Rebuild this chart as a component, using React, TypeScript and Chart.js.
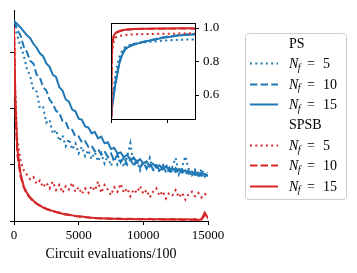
import React, { useEffect, useRef } from 'react';
import { Chart, registerables } from 'chart.js';
Chart.register(...registerables);

const FONT = '"Liberation Serif", "DejaVu Serif", serif';
const BLUE = '#1f77b4';
const RED = '#d62728';

// ---------- main panel data ----------
const X_MAIN = [0, 100, 250, 500, 750, 1000, 1250, 1500, 1750, 2000, 2250, 2500, 2750, 3000, 3250, 3500, 3750, 4000, 4250, 4500, 4750, 5000, 5250, 5500, 5750, 6000, 6250, 6500, 6750, 7000, 7250, 7500, 7750, 8000, 8250, 8500, 8750, 9000, 9250, 9500, 9750, 10000, 10250, 10500, 10750, 11000, 11250, 11500, 11750, 12000, 12250, 12500, 12750, 13000, 13250, 13500, 13750, 14000, 14250, 14500, 14750, 15000];

const PS_N5 = [3.55, 3.42, 3.3, 3.1, 2.95, 2.7, 2.58, 2.32, 2.3, 2.0, 2.02, 1.75, 1.8, 1.55, 1.62, 1.42, 1.52, 1.33, 1.46, 1.27, 1.38, 1.2, 1.32, 1.15, 1.26, 1.1, 1.22, 1.06, 1.2, 1.02, 1.16, 0.98, 1.14, 1.0, 1.12, 0.96, 1.14, 1.38, 0.98, 1.1, 0.9, 1.06, 0.94, 1.12, 0.88, 1.03, 0.86, 0.99, 1.02, 0.84, 0.97, 1.12, 0.83, 0.96, 1.15, 0.92, 0.79, 0.91, 0.77, 0.93, 0.79, 0.86];
const PS_N10 = [3.55, 3.5, 3.4, 3.3, 3.1, 3.0, 2.85, 2.8, 2.6, 2.55, 2.38, 2.32, 2.16, 2.08, 1.96, 1.92, 1.78, 1.76, 1.62, 1.62, 1.5, 1.5, 1.4, 1.42, 1.32, 1.34, 1.24, 1.28, 1.18, 1.24, 1.14, 1.2, 1.08, 1.18, 1.04, 1.14, 1.0, 1.1, 0.98, 1.06, 0.95, 1.05, 0.93, 1.02, 0.92, 0.99, 0.9, 0.97, 0.88, 0.95, 0.86, 0.94, 0.84, 0.92, 0.83, 0.9, 0.81, 0.88, 0.8, 0.86, 0.79, 0.82];
const PS_N15 = [3.56, 3.53, 3.5, 3.44, 3.37, 3.3, 3.25, 3.15, 3.08, 2.98, 2.93, 2.8, 2.74, 2.6, 2.56, 2.38, 2.32, 2.16, 2.12, 1.98, 1.95, 1.82, 1.8, 1.68, 1.66, 1.56, 1.58, 1.47, 1.5, 1.38, 1.4, 1.28, 1.3, 1.2, 1.22, 1.13, 1.18, 1.08, 1.13, 1.05, 1.1, 1.02, 1.06, 0.97, 1.02, 0.95, 0.99, 0.92, 0.97, 0.9, 0.94, 0.87, 0.92, 0.86, 0.9, 0.84, 0.88, 0.82, 0.86, 0.8, 0.84, 0.8];

const SPSB_N5 = [3.45, 2.3, 1.45, 1.08, 0.9, 0.82, 0.74, 0.78, 0.66, 0.72, 0.6, 0.68, 0.58, 0.7, 0.55, 0.64, 0.5, 0.62, 0.56, 0.68, 0.52, 0.6, 0.48, 0.58, 0.5, 0.62, 0.54, 0.7, 0.5, 0.64, 0.56, 0.46, 0.6, 0.52, 0.66, 0.5, 0.58, 0.44, 0.56, 0.5, 0.62, 0.48, 0.55, 0.42, 0.52, 0.58, 0.45, 0.53, 0.4, 0.5, 0.46, 0.55, 0.42, 0.5, 0.38, 0.48, 0.52, 0.44, 0.5, 0.42, 0.48, 0.45];
const SPSB_N10 = [3.45, 2.0, 1.2, 0.8, 0.6, 0.47, 0.41, 0.34, 0.31, 0.27, 0.25, 0.21, 0.2, 0.17, 0.16, 0.14, 0.13, 0.11, 0.11, 0.09, 0.09, 0.08, 0.07, 0.065, 0.06, 0.055, 0.05, 0.05, 0.045, 0.04, 0.05, 0.04, 0.035, 0.045, 0.04, 0.03, 0.04, 0.035, 0.03, 0.04, 0.03, 0.035, 0.03, 0.04, 0.03, 0.03, 0.035, 0.03, 0.025, 0.03, 0.035, 0.025, 0.03, 0.03, 0.025, 0.03, 0.025, 0.03, 0.025, 0.03, 0.1, 0.04];
const SPSB_N15 = [3.45, 2.2, 1.3, 0.85, 0.62, 0.5, 0.42, 0.36, 0.31, 0.28, 0.24, 0.22, 0.19, 0.18, 0.16, 0.15, 0.13, 0.12, 0.11, 0.1, 0.09, 0.085, 0.08, 0.07, 0.065, 0.06, 0.055, 0.05, 0.05, 0.045, 0.04, 0.045, 0.04, 0.035, 0.04, 0.035, 0.03, 0.04, 0.035, 0.03, 0.035, 0.03, 0.03, 0.035, 0.025, 0.03, 0.03, 0.025, 0.03, 0.025, 0.03, 0.025, 0.03, 0.02, 0.025, 0.03, 0.02, 0.025, 0.02, 0.03, 0.15, 0.05];

const MAIN_X_TICKS = [0, 5000, 10000, 15000];
const MAIN_Y_TICKS = [0, 1, 2, 3];

// ---------- inset data ----------
const X_INSET = [0, 100, 250, 500, 750, 1000, 1500, 2000, 2500, 3000, 4000, 5000, 6000, 7000, 8000, 9000, 10000, 11000, 12000, 13000, 14000, 15000];
const IN_PS_N5 = [0.48, 0.52, 0.57, 0.64, 0.71, 0.76, 0.83, 0.865, 0.885, 0.895, 0.905, 0.91, 0.915, 0.918, 0.92, 0.924, 0.926, 0.928, 0.93, 0.93, 0.932, 0.932];
const IN_PS_N10 = [0.48, 0.51, 0.55, 0.61, 0.67, 0.72, 0.8, 0.85, 0.875, 0.89, 0.903, 0.912, 0.92, 0.927, 0.935, 0.942, 0.948, 0.953, 0.957, 0.96, 0.963, 0.965];
const IN_PS_N15 = [0.48, 0.5, 0.54, 0.6, 0.66, 0.7, 0.79, 0.84, 0.87, 0.885, 0.9, 0.91, 0.918, 0.925, 0.932, 0.94, 0.945, 0.95, 0.955, 0.958, 0.96, 0.962];
const IN_SPSB_N5 = [0.47, 0.75, 0.88, 0.925, 0.94, 0.947, 0.953, 0.956, 0.958, 0.96, 0.962, 0.963, 0.964, 0.965, 0.965, 0.966, 0.966, 0.966, 0.967, 0.967, 0.967, 0.967];
const IN_SPSB_N10 = [0.47, 0.78, 0.91, 0.95, 0.963, 0.972, 0.98, 0.985, 0.988, 0.99, 0.993, 0.994, 0.995, 0.996, 0.996, 0.996, 0.997, 0.997, 0.997, 0.997, 0.997, 0.996];
const IN_SPSB_N15 = [0.47, 0.8, 0.92, 0.955, 0.968, 0.975, 0.982, 0.987, 0.99, 0.992, 0.994, 0.995, 0.996, 0.996, 0.997, 0.997, 0.997, 0.997, 0.998, 0.998, 0.998, 0.997];

const INSET_X_TICKS = [0, 10000];
const INSET_Y_TICKS = [0.6, 0.8, 1.0];

// ---------- legend ----------
const GROUPS = ['PS', 'SPSB'];
const NF_VALUES = ['5', '10', '15'];
const AXIS_TITLE = 'Circuit evaluations/100';

const DOT = [2, 3.3];
const DASH = [7.4, 3.2];
const SOLID: number[] = [];
const DASHES = [DOT, DASH, SOLID];
const LW = 2;

const pts = (xs: number[], ys: number[]) => xs.map((x, i) => ({ x, y: ys[i] }));

function ds(xs: number[], ys: number[], color: string, dash: number[]) {
  return {
    data: pts(xs, ys),
    borderColor: color,
    backgroundColor: color,
    borderWidth: LW,
    borderDash: dash,
    pointRadius: 0,
    tension: 0,
    fill: false,
  };
}

const tickMarkAxis = {
  grid: { drawOnChartArea: false, drawTicks: true, tickLength: 4, tickWidth: 1, tickColor: '#000' },
  border: { display: true, color: '#000', width: 1 },
};

const legendPlugin = {
  id: 'customLegend',
  afterDraw(chart: any) {
    const ctx = chart.ctx as CanvasRenderingContext2D;
    ctx.save();
    const bx = 245.5, by = 33.5, bw = 101, bh = 166, r = 3;
    ctx.beginPath();
    ctx.moveTo(bx + r, by);
    ctx.arcTo(bx + bw, by, bx + bw, by + bh, r);
    ctx.arcTo(bx + bw, by + bh, bx, by + bh, r);
    ctx.arcTo(bx, by + bh, bx, by, r);
    ctx.arcTo(bx, by, bx + bw, by, r);
    ctx.closePath();
    ctx.fillStyle = 'rgba(255,255,255,0.8)';
    ctx.fill();
    ctx.strokeStyle = '#cccccc';
    ctx.lineWidth = 1;
    ctx.stroke();

    const rowH = 20.4;
    let row = 0;
    const y0 = 43;
    GROUPS.forEach((g, gi) => {
      const color = gi === 0 ? BLUE : RED;
      const yc = y0 + row * rowH;
      ctx.fillStyle = '#000';
      ctx.font = `14px ${FONT}`;
      ctx.textBaseline = 'alphabetic';
      ctx.textAlign = 'left';
      ctx.fillText(g, 289, yc + 4.5);
      row++;
      NF_VALUES.forEach((n, ni) => {
        const y = y0 + row * rowH;
        ctx.beginPath();
        ctx.setLineDash(DASHES[ni]);
        ctx.strokeStyle = color;
        ctx.lineWidth = LW;
        ctx.moveTo(250, Math.round(y) + 0.5);
        ctx.lineTo(278, Math.round(y) + 0.5);
        ctx.stroke();
        ctx.setLineDash([]);
        ctx.fillStyle = '#000';
        ctx.font = `italic 14px ${FONT}`;
        ctx.fillText('N', 289, y + 5);
        const wN = ctx.measureText('N').width;
        ctx.font = `italic 10px ${FONT}`;
        ctx.fillText('f', 289 + wN - 0.5, y + 7.5);
        ctx.font = `14px ${FONT}`;
        ctx.fillText('=', 307, y + 5);
        ctx.fillText(n, 323, y + 5);
        row++;
      });
    });
    ctx.restore();
  },
};

const insetBoxPlugin = {
  id: 'insetBox',
  beforeDraw(chart: any) {
    const { ctx, chartArea: a } = chart;
    ctx.save();
    ctx.fillStyle = '#fff';
    ctx.fillRect(a.left, a.top, a.right - a.left, a.bottom - a.top);
    ctx.restore();
  },
  afterDraw(chart: any) {
    const { ctx, chartArea: a } = chart;
    ctx.save();
    ctx.strokeStyle = '#000';
    ctx.lineWidth = 1;
    ctx.strokeRect(Math.round(a.left) + 0.5, Math.round(a.top) + 0.5, Math.round(a.right - a.left), Math.round(a.bottom - a.top));
    ctx.restore();
  },
};

export default function App() {
  const mainRef = useRef<HTMLCanvasElement>(null);
  const insetRef = useRef<HTMLCanvasElement>(null);

  useEffect(() => {
    document.body.style.margin = '0';
    const font = { family: FONT, size: 13 };
    const titleFont = { family: FONT, size: 14 };

    const main = new Chart(mainRef.current!, {
      type: 'line',
      data: {
        datasets: [
          ds(X_MAIN, SPSB_N15, RED, SOLID),
          ds(X_MAIN, SPSB_N10, RED, DASH),
          ds(X_MAIN, SPSB_N5, RED, DOT),
          ds(X_MAIN, PS_N15, BLUE, SOLID),
          ds(X_MAIN, PS_N10, BLUE, DASH),
          ds(X_MAIN, PS_N5, BLUE, DOT),
        ] as any,
      },
      options: {
        responsive: false,
        animation: false,
        events: [],
        layout: { padding: { left: 0, top: 10, right: 149, bottom: 0 } },
        plugins: { legend: { display: false }, tooltip: { enabled: false } },
        scales: {
          x: {
            type: 'linear',
            min: 0,
            max: 15000,
            ...tickMarkAxis,
            afterBuildTicks: (s: any) => { s.ticks = MAIN_X_TICKS.map((v) => ({ value: v })); },
            afterFit: (s: any) => { s.height = 52; },
            ticks: { font, color: '#000', maxRotation: 0, autoSkip: false, padding: 3, callback: (v: any) => String(v) },
            title: { display: true, text: AXIS_TITLE, font: titleFont, color: '#000', padding: { top: 0, bottom: 10 } },
          },
          y: {
            type: 'linear',
            min: 0,
            max: 3.75,
            ...tickMarkAxis,
            afterBuildTicks: (s: any) => { s.ticks = MAIN_Y_TICKS.map((v) => ({ value: v })); },
            afterFit: (s: any) => { s.width = 14; },
            ticks: { display: false },
          },
        },
      } as any,
      plugins: [legendPlugin],
    });

    const inset = new Chart(insetRef.current!, {
      type: 'line',
      data: {
        datasets: [
          ds(X_INSET, IN_SPSB_N15, RED, SOLID),
          ds(X_INSET, IN_SPSB_N10, RED, DASH),
          ds(X_INSET, IN_SPSB_N5, RED, DOT),
          ds(X_INSET, IN_PS_N15, BLUE, SOLID),
          ds(X_INSET, IN_PS_N10, BLUE, DASH),
          ds(X_INSET, IN_PS_N5, BLUE, DOT),
        ] as any,
      },
      options: {
        responsive: false,
        animation: false,
        events: [],
        layout: { padding: { left: 11, top: 13, right: 0, bottom: 0 } },
        plugins: { legend: { display: false }, tooltip: { enabled: false } },
        scales: {
          x: {
            type: 'linear',
            min: 0,
            max: 15000,
            ...tickMarkAxis,
            afterBuildTicks: (s: any) => { s.ticks = INSET_X_TICKS.map((v) => ({ value: v })); },
            afterFit: (s: any) => { s.height = 16; },
            ticks: { display: false },
          },
          y: {
            type: 'linear',
            position: 'right',
            min: 0.457,
            max: 1.03,
            ...tickMarkAxis,
            afterBuildTicks: (s: any) => { s.ticks = INSET_Y_TICKS.map((v) => ({ value: v })); },
            afterFit: (s: any) => { s.width = 35; },
            ticks: { font, color: '#000', padding: 4, callback: (v: any) => Number(v).toFixed(1) },
          },
        },
      } as any,
      plugins: [insetBoxPlugin],
    });

    return () => { main.destroy(); inset.destroy(); };
  }, []);

  return (
    <div style={{ position: 'relative', width: 357, height: 273 }}>
      <canvas ref={mainRef} width={357} height={273} style={{ position: 'absolute', left: 0, top: 0, width: 357, height: 273 }} />
      <canvas ref={insetRef} width={130} height={125} style={{ position: 'absolute', left: 100, top: 10, width: 130, height: 125 }} />
    </div>
  );
}
